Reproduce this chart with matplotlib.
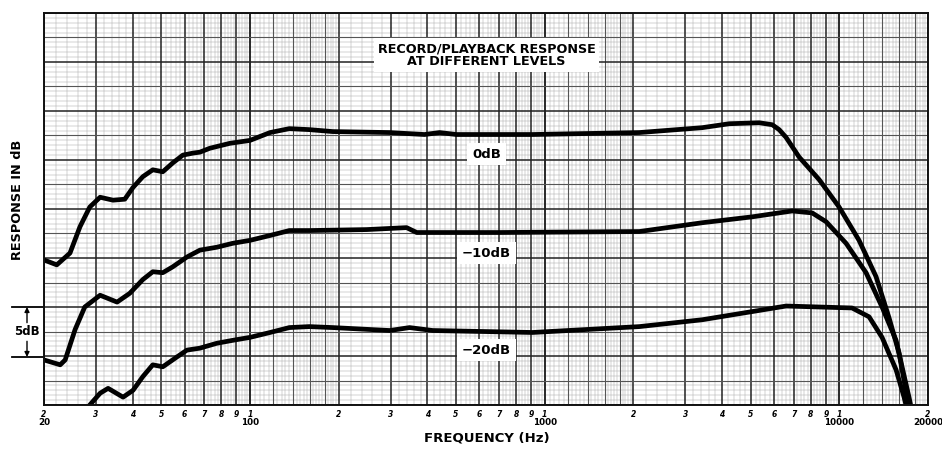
import numpy as np
import matplotlib
matplotlib.use("Agg")
import matplotlib.pyplot as plt
from matplotlib.transforms import blended_transform_factory

# ---------------- data ----------------
freq_0db = [20, 22.1, 24.5, 26.5, 28.6, 31.0, 34.3, 37.6, 40.1, 43.3, 46.8, 50.6, 54.7,
            59.2, 64.0, 67.6, 73.1, 85.4, 100, 117, 136, 159, 191, 298, 391, 440, 502,
            909, 2096, 3428, 4231, 5349, 5920, 6250, 6600, 7306, 8542, 9986, 11670, 13326,
            14752, 15952, 16980, 17700]
resp_0db = [14.8, 14.3, 15.5, 18.2, 20.2, 21.2, 20.9, 21.0, 22.2, 23.3, 24.0, 23.8, 24.7,
            25.5, 25.7, 25.8, 26.2, 26.7, 27.0, 27.8, 28.2, 28.1, 27.9, 27.8, 27.6, 27.8, 27.6,
            27.6, 27.8, 28.3, 28.7, 28.8, 28.6, 28.1, 27.3, 25.3, 23.0, 20.2, 16.8, 13.1,
            8.9, 5.3, 0.8, -1.5]

freq_m10db = [20, 22.7, 23.6, 25.5, 27.5, 31.0, 35.4, 39.1, 43.3, 46.8, 50.6, 54.7, 61.1,
              67.6, 77.2, 87.4, 100, 117, 136, 159, 249, 340, 368, 703, 2096, 3428, 5064,
              6918, 8089, 9022, 10544, 12326, 13968, 15582, 16330, 17240, 17600]
resp_m10db = [4.6, 4.1, 4.6, 7.7, 10.0, 11.2, 10.5, 11.4, 12.8, 13.6, 13.5, 14.1, 15.1,
              15.8, 16.1, 16.5, 16.8, 17.3, 17.8, 17.8, 17.9, 18.1, 17.6, 17.6, 17.7, 18.6, 19.2,
              19.8, 19.6, 18.7, 16.5, 13.5, 10.0, 6.6, 3.9, 0.8, -0.5]

freq_m20db = [27.5, 28.6, 31.0, 33.0, 37.1, 40.1, 43.3, 46.8, 50.6, 56.5, 61.1, 67.6, 77.2,
              87.4, 100, 117, 136, 159, 191, 298, 348, 417, 909, 2096, 3428, 6600, 8542,
              11050, 12619, 13968, 15582, 16588, 17000]
resp_m20db = [-1.0, 0.0, 1.2, 1.7, 0.8, 1.5, 2.9, 4.1, 3.9, 4.9, 5.6, 5.8, 6.3,
              6.6, 6.9, 7.4, 7.9, 8.0, 7.9, 7.6, 7.9, 7.6, 7.4, 8.0, 8.7, 10.1, 10.0,
              9.9, 9.0, 6.9, 3.6, 0.8, -0.5]

level_labels = ["0dB", "\u221210dB", "\u221220dB"]
level_label_db = [25.6, 15.5, 5.6]
label_freq = 635

tick_freqs = [20, 30, 40, 50, 60, 70, 80, 90, 100,
              200, 300, 400, 500, 600, 700, 800, 900, 1000,
              2000, 3000, 4000, 5000, 6000, 7000, 8000, 9000, 10000, 20000]
tick_digits = ["2", "3", "4", "5", "6", "7", "8", "9", "1",
               "2", "3", "4", "5", "6", "7", "8", "9", "1",
               "2", "3", "4", "5", "6", "7", "8", "9", "1", "2"]
decade_freqs = [20, 100, 1000, 10000, 20000]
decade_labels = ["20", "100", "1000", "10000", "20000"]

# ---------------- figure ----------------
fig = plt.figure(figsize=(9.42, 4.49), dpi=100)
ax = fig.add_axes([44 / 942, 1 - 405 / 449, 884 / 942, 392 / 449])
ax.set_xscale("log")
ax.set_xlim(20, 20000)
ax.set_ylim(0, 40)
ax.set_facecolor("white")

# chart-paper grid
fine_c, mid_c, heavy_c = "#a8a8a8", "#555555", "#222222"
for dec in [10, 100, 1000, 10000]:
    for m in np.arange(1.0, 10.0001, 0.04):
        m = round(m, 3)
        f = m * dec
        if f < 20 or f > 20000:
            continue
        if abs(m - round(m)) < 1e-6:
            ax.axvline(f, color=heavy_c, lw=1.1, zorder=1)
        elif m < 2:
            if abs(m * 5 - round(m * 5)) < 1e-6:
                ax.axvline(f, color=mid_c, lw=0.8, zorder=1)
            else:
                ax.axvline(f, color=fine_c, lw=0.35, zorder=0.5)
        elif m < 5:
            if abs(m * 2 - round(m * 2)) < 1e-6:
                ax.axvline(f, color=mid_c, lw=0.8, zorder=1)
            elif abs(m * 10 - round(m * 10)) < 1e-6:
                ax.axvline(f, color=fine_c, lw=0.35, zorder=0.5)
        else:
            if abs(m * 5 - round(m * 5)) < 1e-6:
                ax.axvline(f, color=fine_c, lw=0.35, zorder=0.5)

for v in np.arange(0, 40.01, 0.5):
    v = round(v, 2)
    if abs(v % 5) < 1e-6:
        ax.axhline(v, color=heavy_c, lw=1.1, zorder=1)
    elif abs(v % 2.5) < 1e-6:
        ax.axhline(v, color=mid_c, lw=0.8, zorder=1)
    else:
        ax.axhline(v, color=fine_c, lw=0.35, zorder=0.5)

# curves
for fr, rs in [(freq_0db, resp_0db), (freq_m10db, resp_m10db), (freq_m20db, resp_m20db)]:
    ax.plot(fr, rs, color="black", lw=3.4, solid_capstyle="round",
            solid_joinstyle="round", zorder=5)

# labels on the chart
for lab, yv in zip(level_labels, level_label_db):
    ax.text(label_freq, yv, lab, ha="center", va="center", fontsize=9.5,
            fontweight="bold", zorder=6,
            bbox=dict(boxstyle="square,pad=0.35", fc="white", ec="none"))

ax.text(label_freq, 35.7, "RECORD/PLAYBACK RESPONSE\nAT DIFFERENT LEVELS",
        ha="center", va="center", fontsize=9.2, fontweight="bold",
        linespacing=1.0, zorder=6,
        bbox=dict(boxstyle="square,pad=0.3", fc="white", ec="none"))

# ticks
ax.set_xticks([])
ax.set_yticks([])
ax.minorticks_off()
ax.tick_params(which="both", length=0, labelbottom=False, labelleft=False)
for s in ax.spines.values():
    s.set_linewidth(1.4)
    s.set_color("#111111")
    s.set_zorder(7)

tr = blended_transform_factory(ax.transData, ax.transAxes)
for f, d in zip(tick_freqs, tick_digits):
    ax.text(f, -0.013, d, transform=tr, ha="center", va="top", fontsize=5.5,
            fontweight="bold", style="italic", clip_on=False)
for f, d in zip(decade_freqs, decade_labels):
    ax.text(f, -0.033, d, transform=tr, ha="center", va="top", fontsize=6.3,
            fontweight="bold", clip_on=False)

# axis titles
fig.text(487 / 942, 1 - 438 / 449, "FREQUENCY (Hz)", ha="center", va="center",
         fontsize=9.5, fontweight="bold")
fig.text(18 / 942, 1 - 200 / 449, "RESPONSE IN dB", ha="center", va="center",
         rotation=90, fontsize=9.3, fontweight="bold")

# 5 dB scale marker
trm = blended_transform_factory(ax.transAxes, ax.transData)
xl = -32 / 884
xm = -17 / 884
for yv in (10.0, 4.9):
    ax.plot([xl, 0], [yv, yv], transform=trm, color="black", lw=1.3, clip_on=False)
ax.annotate("", xy=(xm, 10.0), xytext=(xm, 8.4), xycoords=trm, textcoords=trm,
            arrowprops=dict(arrowstyle="-|>", color="black", lw=1.0,
                            mutation_scale=7, shrinkA=0, shrinkB=0))
ax.annotate("", xy=(xm, 4.9), xytext=(xm, 6.5), xycoords=trm, textcoords=trm,
            arrowprops=dict(arrowstyle="-|>", color="black", lw=1.0,
                            mutation_scale=7, shrinkA=0, shrinkB=0))
ax.text(xm, 7.45, "5dB", transform=trm, ha="center", va="center", fontsize=8.5,
        fontweight="bold", clip_on=False)

fig.savefig("out.png", dpi=100, facecolor="white")
